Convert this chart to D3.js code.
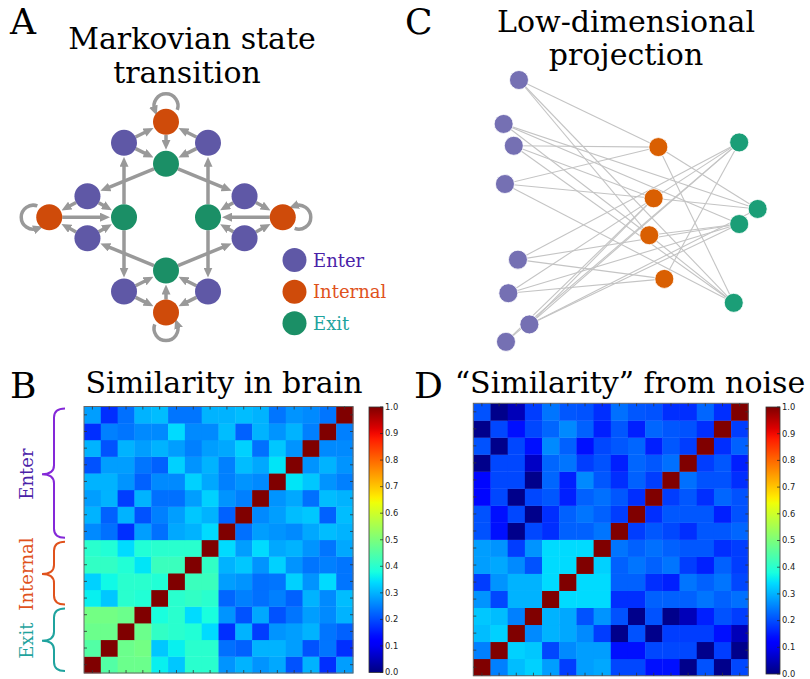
<!DOCTYPE html>
<html><head><meta charset="utf-8">
<script src="https://cdn.jsdelivr.net/npm/d3@7"></script>
<style>body{margin:0;background:#fff}svg{display:block}</style>
</head><body><script>
// ---------------- DATA ----------------
// similarity matrices, row 0 = bottom row, column 0 = left column
const brainRows = [
[1,.45,.48,.48,.36,.32,.40,.40,.27,.30,.27,.29,.205,.30,.17,.28],
[.45,1,.48,.49,.32,.36,.40,.40,.235,.22,.30,.30,.28,.205,.24,.17],
[.48,.48,1,.48,.41,.40,.39,.34,.17,.30,.185,.27,.28,.30,.24,.22],
[.49,.49,.48,1,.38,.40,.34,.38,.27,.205,.29,.205,.24,.28,.26,.30],
[.36,.32,.40,.39,1,.40,.41,.40,.225,.25,.235,.25,.22,.30,.26,.31],
[.33,.37,.40,.40,.39,1,.42,.42,.28,.27,.235,.24,.33,.27,.34,.24],
[.41,.41,.39,.35,.42,.42,1,.41,.30,.32,.27,.33,.27,.24,.25,.24],
[.40,.39,.34,.39,.40,.40,.40,1,.34,.28,.34,.29,.30,.27,.24,.29],
[.26,.235,.17,.28,.235,.29,.30,.34,1,.235,.28,.27,.26,.29,.31,.30],
[.30,.22,.30,.205,.25,.28,.32,.30,.22,1,.26,.28,.31,.32,.22,.31],
[.28,.30,.185,.30,.235,.235,.28,.33,.27,.25,1,.27,.29,.235,.31,.30],
[.30,.30,.27,.22,.26,.26,.33,.29,.25,.27,.26,1,.35,.32,.27,.25],
[.205,.28,.28,.24,.22,.33,.27,.30,.25,.31,.29,.35,1,.27,.30,.27],
[.30,.205,.30,.28,.30,.28,.25,.28,.29,.33,.235,.32,.27,1,.26,.26],
[.17,.25,.24,.26,.26,.34,.26,.26,.31,.22,.30,.27,.30,.25,1,.25],
[.28,.17,.235,.30,.31,.24,.24,.30,.30,.31,.30,.24,.27,.26,.24,1]
];
const noiseRows = [
[1,.25,.31,.33,.28,.185,.28,.29,.195,.195,.14,.14,.01,.205,.01,.195],
[.25,1,.33,.32,.195,.26,.28,.28,.14,.14,.195,.195,.195,.01,.185,.01],
[.31,.33,1,.26,.30,.29,.26,.185,.01,.205,.01,.185,.185,.185,.14,.05],
[.32,.31,.25,1,.30,.29,.205,.27,.205,.01,.205,.01,.05,.155,.205,.185],
[.27,.195,.30,.30,1,.34,.34,.34,.17,.17,.22,.22,.22,.24,.22,.235],
[.185,.27,.30,.30,.34,1,.34,.34,.22,.22,.17,.155,.24,.22,.24,.195],
[.28,.29,.26,.205,.34,.34,1,.33,.22,.24,.22,.24,.185,.155,.22,.185],
[.28,.27,.185,.27,.34,.34,.34,1,.24,.22,.235,.22,.21,.21,.17,.185],
[.205,.14,.01,.195,.17,.22,.22,.24,1,.185,.21,.195,.17,.21,.21,.225],
[.205,.14,.195,.01,.17,.22,.24,.22,.185,1,.17,.21,.21,.21,.155,.205],
[.13,.195,.01,.195,.21,.155,.22,.235,.21,.17,1,.185,.21,.17,.225,.205],
[.13,.195,.195,.01,.225,.155,.26,.21,.17,.22,.185,1,.235,.205,.205,.17],
[.01,.195,.195,.06,.225,.24,.185,.205,.155,.225,.21,.235,1,.185,.21,.155],
[.205,.01,.195,.14,.26,.22,.14,.195,.21,.225,.155,.21,.185,1,.17,.22],
[.01,.195,.14,.195,.225,.26,.22,.155,.21,.155,.225,.21,.205,.17,1,.185],
[.205,.01,.05,.185,.24,.21,.205,.17,.235,.21,.205,.17,.17,.225,.17,1]
];
const colorbarTicks = [0.0,0.1,0.2,0.3,0.4,0.5,0.6,0.7,0.8,0.9,1.0];
const groupNames = ["Enter","Internal","Exit"];
const groupSizes = [8,4,4];   // rows from the top

// Markov graph (layout units)
const markovNodes = [
 {id:"eT1",type:"Enter",u:-1,v:-1.77},{id:"eT2",type:"Enter",u:1,v:-1.77},
 {id:"iT",type:"Internal",u:0,v:-2.27},{id:"xT",type:"Exit",u:0,v:-1.27},
 {id:"eL1",type:"Enter",u:-1.87,v:-0.5},{id:"eL2",type:"Enter",u:-1.87,v:0.5},
 {id:"iL",type:"Internal",u:-2.78,v:0},{id:"xL",type:"Exit",u:-1,v:0},
 {id:"eR1",type:"Enter",u:1.87,v:-0.5},{id:"eR2",type:"Enter",u:1.87,v:0.5},
 {id:"iR",type:"Internal",u:2.78,v:0},{id:"xR",type:"Exit",u:1,v:0},
 {id:"eB1",type:"Enter",u:-1,v:1.77},{id:"eB2",type:"Enter",u:1,v:1.77},
 {id:"iB",type:"Internal",u:0,v:2.27},{id:"xB",type:"Exit",u:0,v:1.27}
];
const markovEdges = [
 ["eT1","iT"],["eT2","iT"],["iT","xT"],["eT1","xT"],["eT2","xT"],
 ["eL1","iL"],["eL2","iL"],["iL","xL"],["eL1","xL"],["eL2","xL"],
 ["eR1","iR"],["eR2","iR"],["iR","xR"],["eR1","xR"],["eR2","xR"],
 ["eB1","iB"],["eB2","iB"],["iB","xB"],["eB1","xB"],["eB2","xB"],
 ["xT","eL1"],["xT","eR1"],["xL","eT1"],["xL","eB1"],
 ["xR","eT2"],["xR","eB2"],["xB","eL2"],["xB","eR2"]
];
const markovLoops = [["iT",0,-1],["iL",-1,0],["iR",1,0],["iB",0,1]];
const legendItems = ["Enter","Internal","Exit"];

// Low-dimensional projection (projection units)
const projNodes = [
 {id:"p1",type:"Enter",u:0.73,v:0.0},{id:"p2",type:"Enter",u:0.14,v:1.69},
 {id:"p3",type:"Enter",u:0.53,v:2.53},{id:"p4",type:"Enter",u:0.19,v:4.0},
 {id:"p5",type:"Enter",u:0.69,v:6.91},{id:"p6",type:"Enter",u:0.32,v:8.2},
 {id:"p7",type:"Enter",u:1.13,v:9.4},{id:"p8",type:"Enter",u:0.23,v:10.07},
 {id:"o1",type:"Internal",u:6.09,v:2.58},{id:"o2",type:"Internal",u:5.91,v:4.55},
 {id:"o3",type:"Internal",u:5.74,v:5.97},{id:"o4",type:"Internal",u:6.32,v:7.65},
 {id:"g1",type:"Exit",u:9.2,v:2.4},{id:"g2",type:"Exit",u:9.91,v:4.96},
 {id:"g3",type:"Exit",u:9.2,v:5.54},{id:"g4",type:"Exit",u:8.99,v:8.57}
];
const projEdges = [
 ["p1","o1"],["p1","o3"],["p1","g4"],
 ["p2","o3"],["p2","g2"],["p2","g3"],
 ["p3","o1"],["p3","o2"],["p3","g4"],
 ["p4","o1"],["p4","o2"],["p4","g4"],
 ["p5","o4"],["p5","g1"],["p5","g3"],
 ["p6","o4"],["p6","g1"],["p6","g3"],
 ["p7","g1"],["p7","g2"],["p7","o2"],["p7","g3"],
 ["p8","g1"],["p8","o2"],
 ["o1","g2"],["o1","g4"],["o2","g2"],["o3","g3"],["o3","g4"],["o4","g1"]
];

// ---------------- STYLE ----------------
const serif = "'DejaVu Serif', serif";
const sans = "'DejaVu Sans', sans-serif";
const colA = {Enter:"#5f58a6",Internal:"#cf4b0a",Exit:"#1b8f66"};
const colC = {Enter:"#7570b3",Internal:"#d95f02",Exit:"#1b9e77"};
const textCol = {Enter:"#4a22a8",Internal:"#e0521c",Exit:"#1fa39e"};
const braceCol = {Enter:"#8428d8",Internal:"#e0521c",Exit:"#1fa39e"};

function jet(v){
  const seg=(pts)=>{for(let i=1;i<pts.length;i++){if(v<=pts[i][0]){const a=pts[i-1],b=pts[i];return a[1]+(b[1]-a[1])*(v-a[0])/(b[0]-a[0]);}}return pts[pts.length-1][1];};
  v=Math.max(0,Math.min(1,v));
  const r=seg([[0,0],[0.35,0],[0.66,1],[0.89,1],[1,0.5]]);
  const g=seg([[0,0],[0.125,0],[0.375,1],[0.64,1],[0.91,0],[1,0]]);
  const b=seg([[0,0.5],[0.11,1],[0.34,1],[0.65,0],[1,0]]);
  return d3.rgb(r*255,g*255,b*255).formatHex();
}

const svg = d3.select("body").append("svg").attr("width",810).attr("height",679)
  .style("background","#fff");
const defs = svg.append("defs");

// ---------- panel letters & titles ----------
const texts = [
 ["A",10,34,36,"start"],["C",405,34,36,"start"],["B",10,398,36,"start"],["D",414,398,36,"start"],
 ["Markovian state",192,49,30,"middle"],["transition",187,83,30,"middle"],
 ["Low-dimensional",626,32,30,"middle"],["projection",626,65,30,"middle"],
 ["Similarity in brain",224,393,30,"middle"],["\u201cSimilarity\u201d from noise",630,393,30,"middle"]
];
svg.selectAll("text.title").data(texts).join("text").attr("class","title")
  .attr("x",d=>d[1]).attr("y",d=>d[2]).attr("font-size",d=>d[3])
  .attr("text-anchor",d=>d[4]).attr("font-family",serif).attr("fill","#000").text(d=>d[0]);

// ---------- Panel A ----------
const ax = d3.scaleLinear().domain([-1,1]).range([124,208]);
const ay = d3.scaleLinear().domain([-1,1]).range([175.2,259.2]);
const nodeById = Object.fromEntries(markovNodes.map(n=>[n.id,n]));
defs.append("marker").attr("id","arrA").attr("markerUnits","userSpaceOnUse")
  .attr("viewBox","0 0 10 9").attr("markerWidth",10).attr("markerHeight",9)
  .attr("refX",4).attr("refY",4.5).attr("orient","auto")
  .append("path").attr("d","M0,0L10,4.5L0,9Z").attr("fill","#999");
const RA = 13;
const gA = svg.append("g");
gA.selectAll("line.edge").data(markovEdges).join("line").attr("class","edge")
  .each(function(e){
    const s=nodeById[e[0]], t=nodeById[e[1]];
    const x1=ax(s.u),y1=ay(s.v),x2=ax(t.u),y2=ay(t.v);
    const L=Math.hypot(x2-x1,y2-y1),dx=(x2-x1)/L,dy=(y2-y1)/L;
    d3.select(this).attr("x1",x1+dx*RA).attr("y1",y1+dy*RA)
      .attr("x2",x2-dx*(RA+7)).attr("y2",y2-dy*(RA+7));
  })
  .attr("stroke","#999").attr("stroke-width",3.5).attr("marker-end","url(#arrA)");
// self loops
const RL=12, OFF=16, TH=70*Math.PI/180;
gA.selectAll("path.loop").data(markovLoops).join("path").attr("class","loop")
  .attr("d",d=>{
    const n=nodeById[d[0]], cx=ax(n.u)+d[1]*OFF, cy=ay(n.v)+d[2]*OFF;
    const bx=-d[1], by=-d[2];
    const rot=(a)=>[bx*Math.cos(a)-by*Math.sin(a), bx*Math.sin(a)+by*Math.cos(a)];
    const p0=rot(-TH), p1=rot(TH);
    return `M${cx+RL*p0[0]},${cy+RL*p0[1]}A${RL},${RL} 0 1 0 ${cx+RL*p1[0]},${cy+RL*p1[1]}`;
  })
  .attr("fill","none").attr("stroke","#999").attr("stroke-width",3.5).attr("marker-end","url(#arrA)");
gA.selectAll("circle").data(markovNodes).join("circle")
  .attr("cx",d=>ax(d.u)).attr("cy",d=>ay(d.v)).attr("r",RA).attr("fill",d=>colA[d.type]);
// legend
const ly = d3.scalePoint().domain(legendItems).range([260,323.3]);
const gLeg = svg.append("g");
gLeg.selectAll("circle").data(legendItems).join("circle")
  .attr("cx",294.5).attr("cy",d=>ly(d)).attr("r",12).attr("fill",d=>colA[d]);
gLeg.selectAll("text").data(legendItems).join("text")
  .attr("x",313).attr("y",d=>ly(d)+6.5).attr("font-family",serif).attr("font-size",18)
  .attr("fill",d=>textCol[d]).text(d=>d);

// ---------- Panel C ----------
const cx = d3.scaleLinear().domain([0,10]).range([500,760]);
const cy = d3.scaleLinear().domain([0,10]).range([80,340]);
const pById = Object.fromEntries(projNodes.map(n=>[n.id,n]));
const gC = svg.append("g");
gC.selectAll("line").data(projEdges).join("line")
  .attr("x1",e=>cx(pById[e[0]].u)).attr("y1",e=>cy(pById[e[0]].v))
  .attr("x2",e=>cx(pById[e[1]].u)).attr("y2",e=>cy(pById[e[1]].v))
  .attr("stroke","#c4c4c4").attr("stroke-width",1.1);
gC.selectAll("circle").data(projNodes).join("circle")
  .attr("cx",d=>cx(d.u)).attr("cy",d=>cy(d.v)).attr("r",9.5)
  .attr("fill",d=>colC[d.type]).attr("stroke","#fff").attr("stroke-width",0.8);

// ---------- heatmaps ----------
function heatmap(rows, x0, x1, y0, y1, cbx, cbw, cby0, cby1){
  const n = rows.length;
  const xs = d3.scaleBand().domain(d3.range(n)).range([x0,x1]);
  const ys = d3.scaleBand().domain(d3.range(n)).range([y1,y0]);
  const g = svg.append("g");
  const cells = rows.flatMap((row,r)=>row.map((v,c)=>({r,c,v})));
  g.selectAll("rect.cell").data(cells).join("rect").attr("class","cell")
    .attr("x",d=>xs(d.c)).attr("y",d=>ys(d.r))
    .attr("width",xs.bandwidth()+0.4).attr("height",ys.bandwidth()+0.4)
    .attr("fill",d=>jet(d.v));
  g.append("rect").attr("x",x0).attr("y",y0).attr("width",x1-x0).attr("height",y1-y0)
    .attr("fill","none").attr("stroke","#666").attr("stroke-width",1);
  const tk = d3.range(n);
  const tg = g.append("g").attr("stroke","#333").attr("stroke-width",0.8);
  tk.forEach(i=>{
    const xm = xs(i)+xs.bandwidth()/2, ym = ys(i)+ys.bandwidth()/2;
    tg.append("line").attr("x1",xm).attr("x2",xm).attr("y1",y0).attr("y2",y0+3);
    tg.append("line").attr("x1",xm).attr("x2",xm).attr("y1",y1).attr("y2",y1-3);
    tg.append("line").attr("y1",ym).attr("y2",ym).attr("x1",x0).attr("x2",x0+3);
    tg.append("line").attr("y1",ym).attr("y2",ym).attr("x1",x1).attr("x2",x1-3);
  });
  // colorbar
  const gid = "grad"+Math.round(x0);
  const grad = defs.append("linearGradient").attr("id",gid).attr("x1",0).attr("y1",1).attr("x2",0).attr("y2",0);
  d3.range(0,1.0001,0.02).forEach(t=>grad.append("stop").attr("offset",t).attr("stop-color",jet(t)));
  const cs = d3.scaleLinear().domain([0,1]).range([cby1,cby0]);
  g.append("rect").attr("x",cbx).attr("y",cby0).attr("width",cbw).attr("height",cby1-cby0)
    .attr("fill",`url(#${gid})`).attr("stroke","#333").attr("stroke-width",0.8);
  const ct = g.append("g");
  ct.selectAll("line").data(colorbarTicks).join("line")
    .attr("x1",cbx+cbw-3).attr("x2",cbx+cbw).attr("y1",d=>cs(d)).attr("y2",d=>cs(d))
    .attr("stroke","#222").attr("stroke-width",0.7);
  ct.selectAll("text").data(colorbarTicks).join("text")
    .attr("x",cbx+cbw+2).attr("y",d=>cs(d)+2.8).attr("font-family",sans).attr("font-size",8.3)
    .attr("fill","#222").text(d3.format(".1f"));
}
heatmap(brainRows, 84, 353, 406.5, 673, 369, 14, 407, 672.5);
heatmap(noiseRows, 473.3, 748.3, 403.3, 675.7, 766, 14, 407, 674);

// ---------- group labels & braces ----------
const gy = d3.scaleLinear().domain([0,16]).range([406.5,673]);
let acc=0;
const groups = groupNames.map((g,i)=>{const s=acc; acc+=groupSizes[i]; return {g,s,e:acc};});
function brace(ya,yb,ym){
  const xr=65,xm=54,xt=42,q=9;
  return `M${xr},${ya}Q${xm},${ya} ${xm},${ya+q}L${xm},${ym-q}Q${xm},${ym} ${xt},${ym}`+
         `Q${xm},${ym} ${xm},${ym+q}L${xm},${yb-q}Q${xm},${yb} ${xr},${yb}`;
}
svg.selectAll("path.brace").data(groups).join("path").attr("class","brace")
  .attr("d",d=>{const a=gy(d.s)+2,b=gy(d.e)-2;return brace(a,b,(a+b)/2+1);})
  .attr("fill","none").attr("stroke",d=>braceCol[d.g]).attr("stroke-width",2);
svg.selectAll("text.glab").data(groups).join("text").attr("class","glab")
  .attr("transform",d=>`translate(33,${(gy(d.s)+gy(d.e))/2+1}) rotate(-90)`)
  .attr("text-anchor","middle").attr("font-family",serif).attr("font-size",18)
  .attr("fill",d=>textCol[d.g]).text(d=>d.g);
</script></body></html>
